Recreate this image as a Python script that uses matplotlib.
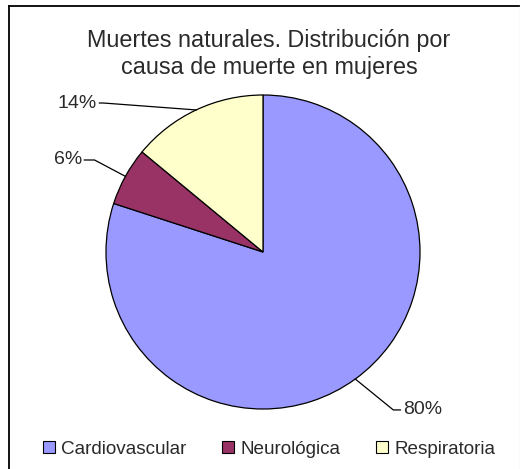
import numpy as np
import matplotlib
matplotlib.use("Agg")
import matplotlib.pyplot as plt
from matplotlib.patches import Rectangle
from matplotlib.lines import Line2D

categories = ["Cardiovascular", "Neurológica", "Respiratoria"]
values = [80, 6, 14]
labels = ["80%", "6%", "14%"]
colors = ["#9999FF", "#993366", "#FFFFCC"]
title = "Muertes naturales. Distribución por\ncausa de muerte en mujeres"

plt.rcParams['font.family'] = ['Liberation Sans', 'DejaVu Sans']

W, H = 520, 469
fig = plt.figure(figsize=(W / 100, H / 100), dpi=100)
fig.patch.set_facecolor("white")

# outer frame (left and top visible, right/bottom cut at image edge)
fig.add_artist(Line2D([8.5 / W, 8.5 / W], [0.5 / H, 1 - 6.5 / H], transform=fig.transFigure,
                      color="black", linewidth=1.3))
fig.add_artist(Line2D([8.5 / W, 1], [1 - 6.5 / H, 1 - 6.5 / H], transform=fig.transFigure,
                      color="black", linewidth=1.3))
fig.add_artist(Line2D([1 - 0.5 / W, 1 - 0.5 / W], [0, 1 - 6.5 / H], transform=fig.transFigure,
                      color="#e6e6e6", linewidth=1))

cx, cy, r = 263, 252, 157
ax = fig.add_axes([(cx - r) / W, (H - cy - r) / H, 2 * r / W, 2 * r / H])
wedges, _ = ax.pie(values, colors=colors, startangle=90, counterclock=False, radius=1,
                   wedgeprops=dict(edgecolor="black", linewidth=0.9))
ax.set_xlim(-1, 1)
ax.set_ylim(-1, 1)
ax.axis("off")

# label anchor (layout, axes data units), knee offset
label_pos = {0: (0.89, -1.006, 0.06), 1: (-1.153, 0.586, 0.08), 2: (-1.057, 0.949, 0.04)}
for i, w in enumerate(wedges):
    mid = np.deg2rad((w.theta1 + w.theta2) / 2)
    px, py = np.cos(mid), np.sin(mid)
    tx, ty, k = label_pos[i]
    if tx > 0:
        ha = "left"
        ex = tx - 0.015
        knee = (tx - k, ty)
    else:
        ha = "right"
        ex = tx + 0.015
        knee = (tx + k, ty)
    ax.plot([px, knee[0], ex], [py, knee[1], ty], color="black", lw=0.9, clip_on=False)
    ax.text(tx, ty, labels[i], ha=ha, va="center", fontsize=14, color="#2a2a2a")

fig.text(269 / W, 1 - 54 / H, title, ha="center", va="center", fontsize=16.8,
         color="#2a2a2a", linespacing=1.2)

handles = [Rectangle((0, 0), 1, 1, facecolor=c, edgecolor="black", linewidth=0.8) for c in colors]
fig.legend(handles, categories, loc="center", bbox_to_anchor=(269 / W, 1 - 449 / H),
           ncol=3, frameon=False, fontsize=13.6, handlelength=0.64, handleheight=0.64,
           handletextpad=0.32, columnspacing=1.9, borderpad=0, labelcolor="#2a2a2a")

fig.savefig("out.png", dpi=100)
